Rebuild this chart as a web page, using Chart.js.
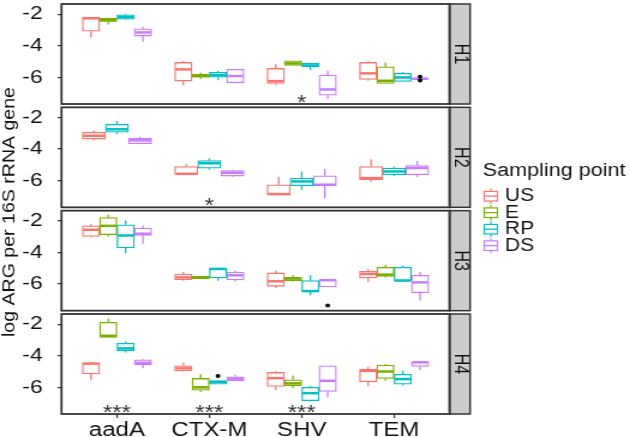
<!DOCTYPE html>
<html>
<head>
<meta charset="utf-8">
<script src="https://cdn.jsdelivr.net/npm/chart.js@4.4.1/dist/chart.umd.min.js"></script>
<style>
html,body{margin:0;padding:0;background:#fff;overflow:hidden}
/* the source figure is stretched sideways, so draw narrow and scale the box */
#wrap{position:absolute;left:0;top:0;width:525px;height:437px;transform:scaleX(1.2);transform-origin:0 0}
</style>
</head>
<body>
<div id="wrap"><canvas id="chart" width="525" height="437"></canvas></div>
<script>
// --- data ---
const categories = ['aadA','CTX-M','SHV','TEM']
const groups = ['US','E','RP','DS']
const panels = ['H1','H2','H3','H4']
const groupColors = ['#F8766D','#7CAE00','#00BFC4','#C77CFF']

// each box: [lower whisker, Q1, median, Q3, upper whisker], one per category
const h1US = [[-3.47,-3.08,-2.27,-2.21,-2.2],[-6.51,-6.24,-5.5,-5.06,-4.97],[-6.51,-6.39,-6.24,-5.44,-5.18],[-6.22,-6.13,-5.75,-5.06,-4.96]]
const h1E  = [[-2.65,-2.46,-2.38,-2.27,-2.27],[-6.1,-5.99,-5.92,-5.8,-5.7],[-5.25,-5.25,-5.12,-4.96,-4.96],[-6.39,-6.39,-6.22,-5.33,-5.06]]
const h1RP = [[-2.35,-2.32,-2.19,-2.04,-2.0],[-6.18,-5.99,-5.86,-5.69,-5.59],[-5.54,-5.35,-5.25,-5.12,-5.1],[-6.3,-6.26,-6.01,-5.75,-5.67]]
const h1DS = [[-3.75,-3.39,-3.16,-2.93,-2.78],[-6.4,-6.35,-5.92,-5.5,-5.5],[-7.38,-7.13,-6.77,-5.86,-5.59],[-6.12,-6.12,-6.09,-6.05,-6.05]]

const h2US = [[-3.45,-3.37,-3.16,-2.94,-2.82],[-5.61,-5.61,-5.57,-5.11,-4.96],[-6.91,-6.91,-6.85,-6.26,-5.77],[-6.07,-5.94,-5.84,-5.11,-4.64]]
const h2E  = null
const h2RP = [[-3.07,-2.94,-2.75,-2.44,-2.23],[-5.31,-5.21,-4.9,-4.73,-4.58],[-6.57,-6.32,-6.05,-5.84,-5.42],[-5.7,-5.63,-5.42,-5.21,-5.1]]
const h2DS = [[-3.7,-3.66,-3.45,-3.32,-3.2],[-5.75,-5.71,-5.5,-5.36,-5.3],[-7.1,-6.32,-6.26,-5.69,-5.27],[-5.77,-5.63,-5.2,-5.04,-4.75]]

const h3US = [[-3.05,-2.99,-2.57,-2.32,-2.2],[-5.8,-5.73,-5.58,-5.37,-5.25],[-6.25,-6.15,-5.83,-5.3,-5.17],[-5.87,-5.62,-5.37,-5.2,-5.05]]
const h3E  = [[-2.99,-2.88,-2.32,-1.79,-1.62],[-5.66,-5.66,-5.6,-5.52,-5.52],[-5.85,-5.79,-5.66,-5.58,-5.45],[-5.6,-5.52,-5.41,-4.95,-4.78]]
const h3RP = [[-4.06,-3.72,-2.93,-2.25,-1.98],[-5.8,-5.62,-5.05,-4.99,-4.95],[-6.72,-6.5,-6.45,-5.79,-5.45],[-5.83,-5.83,-5.78,-4.95,-4.84]]
const h3DS = [[-3.45,-2.93,-2.82,-2.46,-2.3],[-5.85,-5.75,-5.45,-5.24,-5.15],[-6.19,-6.19,-5.76,-5.73,-5.73],[-7.05,-6.56,-5.9,-5.45,-5.24]]

const h4US = [[-5.52,-5.16,-4.5,-4.47,-4.4],[-5.0,-4.96,-4.8,-4.64,-4.45],[-6.18,-5.94,-5.42,-5.06,-4.97],[-5.94,-5.65,-4.96,-4.85,-4.7]]
const h4E  = [[-2.84,-2.84,-2.74,-1.89,-1.64],[-6.3,-6.18,-6.0,-5.44,-5.17],[-6.05,-5.9,-5.75,-5.52,-5.25],[-5.59,-5.44,-5.0,-4.59,-4.53]]
const h4RP = [[-3.8,-3.69,-3.54,-3.22,-3.1],[-5.8,-5.8,-5.65,-5.59,-5.59],[-6.9,-6.85,-6.37,-6.0,-5.9],[-5.88,-5.8,-5.48,-5.18,-4.97]]
const h4DS = [[-4.8,-4.59,-4.45,-4.26,-4.2],[-5.6,-5.59,-5.45,-5.33,-5.2],[-6.64,-6.26,-5.59,-4.64,-4.64],[-4.9,-4.68,-4.42,-4.39,-4.39]]

// outlying points
const outlierPanel = [0,0,2,3]
const outlierCat   = [3,3,2,1]
const outlierGroup = [3,3,3,2]
const outlierValue = [-5.97,-6.2,-7.37,-5.29]

// significance stars
const sigPanel = [0,1,3,3,3]
const sigCat   = [2,1,0,1,2]
const sigText  = ['*','*','***','***','***']
const sigValue = -7.25

const yTitle = 'log ARG per 16S rRNA gene'
const legendTitle = 'Sampling point'

// --- layout (canvas px, before the 1.2 sideways stretch) ---
const FONT = "'Liberation Sans', Arial, Helvetica, sans-serif"
const Y_AXIS_W = 51.25
const STRIP_W = 17.1
const RIGHT_PAD = 150.4
const AREA_H = 410
const GAP = 10/3
const FRAME_H = (AREA_H - 3*GAP)/4
const PANEL_TOP = -1.36, PANEL_BOTTOM = -7.69
const unitsPerPx = (PANEL_TOP - PANEL_BOTTOM)/FRAME_H
const slotH = AREA_H/4

const boxRows = [
  [h1US,h1E,h1RP,h1DS],
  [h2US,h2E,h2RP,h2DS],
  [h3US,h3E,h3RP,h3DS],
  [h4US,h4E,h4RP,h4DS]
]

// dodge offsets per panel (ggplot spreads 0.75 over the groups present)
function dodge(row){
  const present = groups.map((_,g)=>row[g] ? g : -1).filter(g=>g>=0)
  const w = 0.75/present.length
  const off = {}
  present.forEach((g,k)=>{ off[g] = -0.375 + w*(k+0.5) })
  return {present, off, axis: present.length === 4 ? 'x' : 'x' + present.length}
}

const datasets = []
boxRows.forEach((row,p)=>{
  const d = dodge(row)
  d.present.forEach(g=>{
    datasets.push({
      type:'bar',
      label: groups[g],
      stats: row[g],
      xAxisID: d.axis,
      yAxisID: 'y' + (p+1),
      data: row[g].map((s,j)=>({x: j+1+d.off[g], y:[s[1], s[3]]})),
      backgroundColor:'#ffffff',
      borderColor: groupColors[g],
      borderWidth: 1.3,
      borderSkipped: false,
      grouped: false,
      barPercentage: 1,
      categoryPercentage: 1
    })
  })
})
// outliers, one scatter set per panel
panels.forEach((name,p)=>{
  const d = dodge(boxRows[p])
  const pts = []
  outlierValue.forEach((v,i)=>{
    if(outlierPanel[i] !== p) return
    pts.push({x: outlierCat[i]+1+d.off[outlierGroup[i]], y: v})
  })
  if(!pts.length) return
  datasets.push({
    type:'scatter', label:'outliers '+name, order:-1,
    xAxisID:'x', yAxisID:'y'+(p+1), data: pts,
    pointRadius:2, pointBackgroundColor:'#000', pointBorderWidth:0
  })
})

function noPad(s){ s.paddingTop = 0; s.paddingBottom = 0; s.paddingLeft = 0; s.paddingRight = 0 }

const scales = {
  x: {
    type:'linear', position:'bottom', min:0.4, max:4.6, offset:false,
    ticks:{stepSize:1, includeBounds:false, autoSkip:false, maxRotation:0, padding:0,
      color:'#111', font:{family: FONT, size: 20}, callback: v => categories[v-1] || ''},
    grid:{drawOnChartArea:false, drawTicks:true, tickLength:4, color:'#333', lineWidth:1.2, offset:false},
    border:{display:false},
    afterFit: s => { s.height = 23; noPad(s) }
  },
  x3: {type:'linear', display:false, min:0.4, max:4.6, offset:false, ticks:{stepSize:1, includeBounds:false}}
}
panels.forEach((name,k)=>{
  const tIn = k*(FRAME_H + GAP - slotH)
  const bIn = slotH - FRAME_H - tIn
  scales['y'+(k+1)] = {
    type:'linear', position:'left', stack:'rows', stackWeight:1, weight: panels.length - k,
    min: PANEL_BOTTOM - bIn*unitsPerPx,
    max: PANEL_TOP + tIn*unitsPerPx,
    ticks:{stepSize:2, includeBounds:false, color:'#111', font:{family: FONT, size: 19}, padding:12.5},
    grid:{drawOnChartArea:false, drawTicks:true, tickLength:3.3, color:'#333', lineWidth:1.2},
    border:{display:false},
    afterFit: s => { s.width = Y_AXIS_W; noPad(s) }
  }
})

// whiskers, medians, panel frames, strips, stars, legend, axis title
const facetPlugin = {
  id:'facets',
  beforeDatasetsDraw(chart){
    const ctx = chart.ctx
    chart.data.datasets.forEach((ds,i)=>{
      if(!ds.stats) return
      const meta = chart.getDatasetMeta(i)
      const ys = chart.scales[ds.yAxisID]
      ctx.save()
      ctx.strokeStyle = ds.borderColor
      ctx.lineWidth = 1.3
      meta.data.forEach((el,j)=>{
        const s = ds.stats[j]
        ctx.beginPath()
        ctx.moveTo(el.x, ys.getPixelForValue(s[0])); ctx.lineTo(el.x, ys.getPixelForValue(s[1]))
        ctx.moveTo(el.x, ys.getPixelForValue(s[3])); ctx.lineTo(el.x, ys.getPixelForValue(s[4]))
        ctx.stroke()
      })
      ctx.restore()
    })
  },
  afterDatasetDraw(chart, args){
    const ds = chart.data.datasets[args.index]
    if(!ds.stats) return
    const ctx = chart.ctx
    const ys = chart.scales[ds.yAxisID]
    ctx.save()
    ctx.strokeStyle = ds.borderColor
    ctx.lineWidth = 2.5
    args.meta.data.forEach((el,j)=>{
      const y = ys.getPixelForValue(ds.stats[j][2])
      ctx.beginPath()
      ctx.moveTo(el.x - el.width/2 + 0.6, y); ctx.lineTo(el.x + el.width/2 - 0.6, y)
      ctx.stroke()
    })
    ctx.restore()
  },
  afterDraw(chart){
    const ctx = chart.ctx
    const area = chart.chartArea
    const xs = chart.scales.x
    ctx.save()
    panels.forEach((name,k)=>{
      const ys = chart.scales['y'+(k+1)]
      const top = ys.getPixelForValue(PANEL_TOP)
      const bottom = ys.getPixelForValue(PANEL_BOTTOM)
      // strip
      ctx.fillStyle = '#CCCCCC'
      ctx.fillRect(area.right, top, STRIP_W, bottom-top)
      ctx.strokeStyle = '#333'
      ctx.lineWidth = 1.5
      ctx.strokeRect(area.right, top, STRIP_W, bottom-top)
      ctx.save()
      ctx.translate(area.right + STRIP_W/2, (top+bottom)/2)
      ctx.rotate(Math.PI/2)
      ctx.fillStyle = '#111'
      ctx.font = `16px ${FONT}`
      ctx.textAlign = 'center'
      ctx.textBaseline = 'middle'
      ctx.fillText(name, 0, 0)
      ctx.restore()
      // panel frame
      ctx.strokeStyle = '#333'
      ctx.lineWidth = 1.8
      ctx.strokeRect(area.left, top, area.right-area.left, bottom-top)
    })
    // significance stars
    ctx.fillStyle = '#333'
    ctx.textAlign = 'center'
    ctx.textBaseline = 'alphabetic'
    const starSize = 20
    ctx.font = `${starSize}px ${FONT}`
    sigText.forEach((t,i)=>{
      const ys = chart.scales['y'+(sigPanel[i]+1)]
      ctx.fillText(t, xs.getPixelForValue(sigCat[i]+1), ys.getPixelForValue(sigValue) + 0.58*starSize)
    })
    // y axis title
    ctx.save()
    ctx.fillStyle = '#111'
    ctx.font = `15.5px ${FONT}`
    ctx.textAlign = 'center'
    ctx.textBaseline = 'middle'
    ctx.translate(8, 212)
    ctx.rotate(-Math.PI/2)
    ctx.scale(250/ctx.measureText(yTitle).width, 1)
    ctx.fillText(yTitle, 0, 0)
    ctx.restore()
    // legend
    ctx.fillStyle = '#111'
    ctx.textAlign = 'left'
    ctx.textBaseline = 'middle'
    ctx.font = `18px ${FONT}`
    ctx.fillText(legendTitle, 402.2, 171.2)
    ctx.font = `17.5px ${FONT}`
    groups.forEach((g,i)=>{
      const cy = 196.2 + i*16.5
      const cx = 409
      ctx.strokeStyle = groupColors[i]
      ctx.lineWidth = 1.2
      ctx.fillStyle = '#fff'
      ctx.fillRect(cx-5.5, cy-4.8, 11, 9.6)
      ctx.strokeRect(cx-5.5, cy-4.8, 11, 9.6)
      ctx.beginPath()
      ctx.moveTo(cx-5.5, cy); ctx.lineTo(cx+5.5, cy)
      ctx.moveTo(cx, cy-4.8); ctx.lineTo(cx, cy-7.8)
      ctx.moveTo(cx, cy+4.8); ctx.lineTo(cx, cy+7.8)
      ctx.stroke()
      ctx.fillStyle = '#111'
      ctx.fillText(g, 420.8, cy)
    })
    ctx.restore()
  }
}

new Chart(document.getElementById('chart'), {
  type:'bar',
  data:{datasets},
  options:{
    responsive:false,
    animation:false,
    events:[],
    layout:{padding:{top:4, right:RIGHT_PAD, left:0, bottom:0}},
    plugins:{legend:{display:false}, tooltip:{enabled:false}},
    scales
  },
  plugins:[facetPlugin]
})
</script>
</body>
</html>
